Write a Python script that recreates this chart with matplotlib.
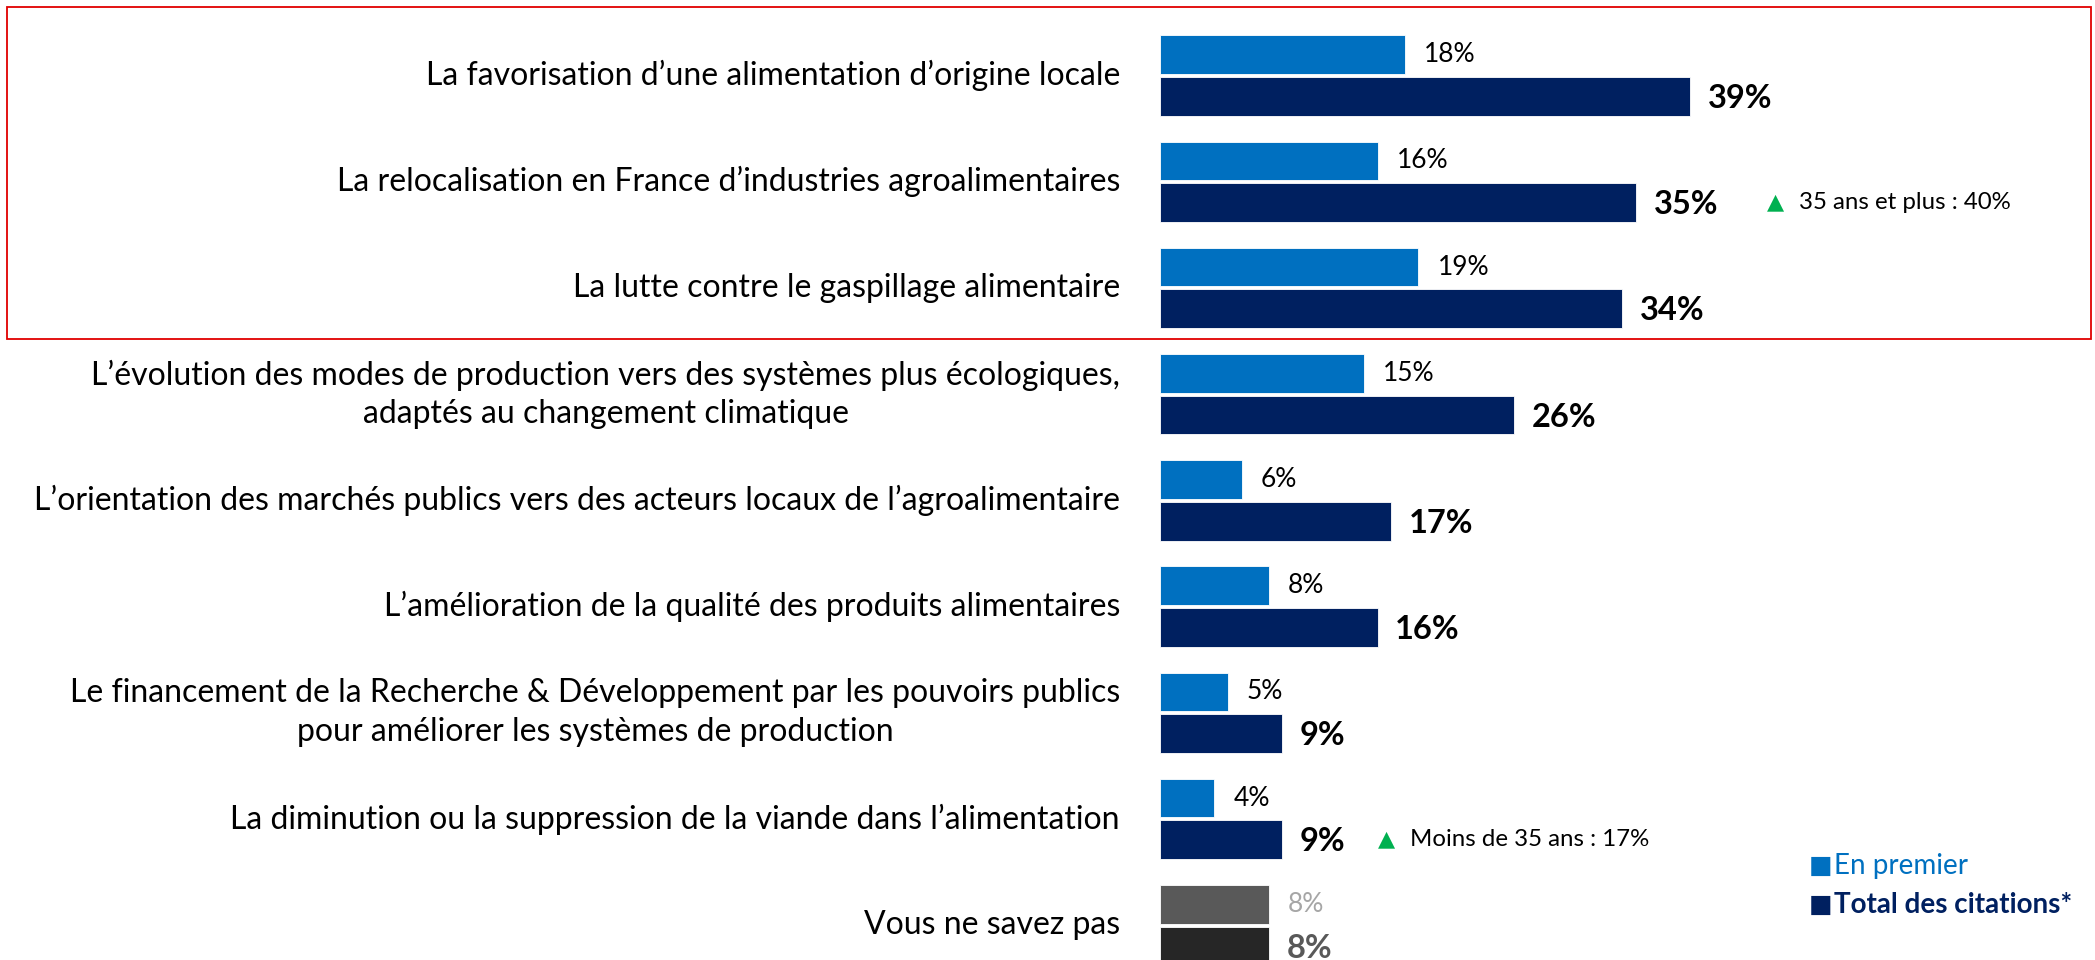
import matplotlib
matplotlib.use("Agg")
import matplotlib.pyplot as plt
from matplotlib.patches import Rectangle

# data
labels = [
    "La favorisation d\u2019une alimentation d\u2019origine locale",
    "La relocalisation en France d\u2019industries agroalimentaires",
    "La lutte contre le gaspillage alimentaire",
    "L\u2019\u00e9volution des modes de production vers des syst\u00e8mes plus \u00e9cologiques,\nadapt\u00e9s au changement climatique",
    "L\u2019orientation des march\u00e9s publics vers des acteurs locaux de l\u2019agroalimentaire",
    "L\u2019am\u00e9lioration de la qualit\u00e9 des produits alimentaires",
    "Le financement de la Recherche & D\u00e9veloppement par les pouvoirs publics\npour am\u00e9liorer les syst\u00e8mes de production",
    "La diminution ou la suppression de la viande dans l\u2019alimentation",
    "Vous ne savez pas",
]
en_premier = [18, 16, 19, 15, 6, 8, 5, 4, 8]
total_citations = [39, 35, 34, 26, 17, 16, 9, 9, 8]
notes = {1: "35 ans et plus : 40%", 7: "Moins de 35 ans : 17%"}
legend_labels = ["En premier", "Total des citations*"]

FONT = "Lato"
LIGHT = "#0070C0"
DARK = "#002060"
GREY_L = "#595959"
GREY_D = "#262626"
GREEN = "#00B050"

W, H = 2095, 960
fig = plt.figure(figsize=(W / 100, H / 100), dpi=100)

x0 = 1160          # bar start, px
px_per = 13.6      # px per percent
pitch = 106.2      # px between rows
first = 75.5       # px, centre of first row
ax = fig.add_axes([x0 / W, 0, 1 - x0 / W, 1])
ax.set_xlim(0, (W - x0) / px_per)
ax.set_ylim((H - first) / pitch, -first / pitch)
ax.axis("off")

bh = 38.7 / pitch
off = bh / 2 + 1.5 / pitch
n = len(labels)
for i in range(n):
    last = (i == n - 1)
    c1 = GREY_L if last else LIGHT
    c2 = GREY_D if last else DARK
    ax.barh(i - off, en_premier[i], height=bh, color=c1, edgecolor="white", linewidth=0.6)
    ax.barh(i + off, total_citations[i], height=bh, color=c2, edgecolor="white", linewidth=0.6)
    ax.text(en_premier[i] + 1.4, i - off, "%d%%" % en_premier[i], va="center", ha="left",
            fontsize=19, family=FONT, color="#A6A6A6" if last else "black")
    ax.text(total_citations[i] + 1.3, i + off + 0.02, "%d%%" % total_citations[i], va="center",
            ha="left", fontsize=23.5, fontweight="bold", family=FONT,
            color=GREY_L if last else "black")
    ax.text(-40 / px_per, i, labels[i], va="center", ha="right", multialignment="center",
            fontsize=23, family=FONT, color="black", linespacing=1.35, clip_on=False)

note_x = {1: 44.6, 7: 16.0}
for i, txt in notes.items():
    ax.text(note_x[i], i + off, "\u25b2", va="center", ha="left", fontsize=16,
            color=GREEN, family="DejaVu Sans")
    ax.text(note_x[i] + 2.4, i + off, txt, va="center", ha="left", fontsize=17.3,
            family=FONT, color="black")

# legend
for k, (lab, col) in enumerate(zip(legend_labels, [LIGHT, DARK])):
    yy = 1 - (866 + 39 * k) / H
    fig.text(1809 / W, yy, "\u25a0", color=col, fontsize=18, va="center", ha="left",
             family="DejaVu Sans")
    fig.text(1834 / W, yy, lab, color=col, fontsize=20, va="center", ha="left",
             family=FONT, fontweight="bold" if k == 1 else "normal")

# red frame around the top three items
fig.patches.append(Rectangle((7 / W, 1 - 339 / H), 2084 / W, 332 / H,
                             transform=fig.transFigure, fill=False,
                             edgecolor="#E00000", linewidth=1.3))

fig.savefig("out.png", dpi=100)
